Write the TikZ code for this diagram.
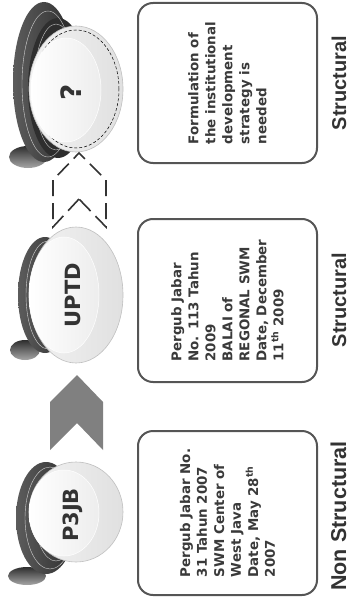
\documentclass[tikz,border=0pt]{standalone}
\usepackage{fontspec}
\setmainfont{DejaVu Sans}
\newfontfamily\labelfont{Liberation Sans}
\usetikzlibrary{shapes.geometric}
\definecolor{ink}{HTML}{333333}
\definecolor{boxink}{HTML}{3A3A3A}
\definecolor{boxline}{HTML}{555555}
\definecolor{chevgray}{HTML}{808080}
\definecolor{dishdark}{HTML}{2E2E2E}
\definecolor{dishedge}{HTML}{5C5C5C}

\begin{document}
\begin{tikzpicture}[x=1pt,y=-1pt,
  infobox/.style={draw=boxline, line width=2pt, rounded corners=15pt, rotate=90,
    minimum height=179pt, align=left, text=boxink, inner sep=0pt,
    font=\bfseries\fontsize{13.4}{17}\selectfont},
  kindlabel/.style={rotate=90, anchor=base, text=ink, inner sep=0pt,
    font=\labelfont\bfseries\fontsize{20}{22}\selectfont},
  dishrim/.style={ellipse, inner sep=0pt, draw=gray!50, line width=.6pt,
    left color=gray!10, right color=gray!24},
  dishface/.style={left color=white, right color=gray!14},
  dishlabel/.style={rotate=90, text=ink, inner sep=0pt,
    font=\bfseries\fontsize{21}{21}\selectfont},
  dishback/.style={left color=dishedge, right color=dishdark},
  dishfoot/.style={top color=dishdark, bottom color=gray!70},
  sheen/.style={draw=white, line width=.4pt, opacity=.75},
  solidchevron/.style={fill=chevgray},
  dashchevron/.style={draw=ink, line width=1.6pt, dash pattern=on 16pt off 7pt},
]
\useasboundingbox (0,0) rectangle (350,602);

% ---- dish with the question mark ----
\shade[dishfoot] (28,157) ellipse [x radius=19pt, y radius=11pt];
\shade[dishback] (44,82) ellipse [x radius=31pt, y radius=80pt];
\fill[dishdark] (58,88) ellipse [x radius=30pt, y radius=70pt];
\draw[sheen] (48,84) ellipse [x radius=26pt, y radius=73pt];
\draw[sheen] (56,87) ellipse [x radius=22pt, y radius=63pt];
\node[dishrim, minimum width=94pt, minimum height=126pt] (qrim) at (76,89) {};
\draw[black, line width=.5pt, densely dashed] (76,89) ellipse [x radius=43pt, y radius=59pt];
\shade[dishface] (66,90) ellipse [x radius=35pt, y radius=52pt];
\draw[white, line width=.5pt] (66,90) ellipse [x radius=35pt, y radius=52pt];
\node[dishlabel, font=\bfseries\fontsize{28}{28}\selectfont] (qmark) at (71,92) {?};

% ---- UPTD dish ----
\shade[dishfoot] (25,350) ellipse [x radius=15pt, y radius=10pt];
\shade[dishback] (45,295) ellipse [x radius=27pt, y radius=58pt];
\draw[sheen] (48,295) ellipse [x radius=22pt, y radius=54pt];
\node[dishrim, minimum width=94pt, minimum height=136pt] (uptdrim) at (76,295) {};
\shade[dishface] (64,295) ellipse [x radius=35pt, y radius=58pt];
\draw[white, line width=.5pt] (64,295) ellipse [x radius=35pt, y radius=58pt];
\node[dishlabel] (uptd) at (73,295) {UPTD};

% ---- P3JB dish ----
\shade[dishfoot] (27,576) ellipse [x radius=19pt, y radius=9pt];
\shade[dishback] (46,518) ellipse [x radius=30pt, y radius=56pt];
\draw[sheen] (50,518) ellipse [x radius=25pt, y radius=51pt];
\draw[sheen] (56,516) ellipse [x radius=21pt, y radius=45pt];
\node[dishrim, minimum width=94pt, minimum height=100pt] (p3jbrim) at (76,512) {};
\shade[dishface] (64,513) ellipse [x radius=35pt, y radius=43pt];
\draw[white, line width=.5pt] (64,513) ellipse [x radius=35pt, y radius=43pt];
\node[dishlabel] (p3jb) at (73,515) {P3JB};

% ---- arrows between the stages ----
\fill[solidchevron] (50,450) -- (50,402) -- (77,375) -- (103,402) -- (103,450) -- (77,423) -- cycle;
\draw[dashchevron] (79,199) -- (53,227) -- (53,180) -- (79,153) -- (106,180) -- (106,227) -- cycle;

% ---- description boxes ----
\node[infobox, minimum width=160pt] (strategy) at (227.5,83)
  {Formulation of\\the institutional\\development\\strategy is\\needed};
\node[infobox, minimum width=163pt] (balai) at (227.5,300.5)
  {Pergub Jabar\\No. 113 Tahun\\2009\\BALAI of\\REGONAL SWM\\Date, December\\11\textsuperscript{th} 2009};
\node[infobox, minimum width=164pt] (center) at (227.5,513)
  {Pergub Jabar No.\\31 Tahun 2007\\SWM Center of\\West Java\\Date, May 28\textsuperscript{th}\\2007};

% ---- classification labels ----
\node[kindlabel] (kind1) at (346,83) {Structural};
\node[kindlabel] (kind2) at (346,300) {Structural};
\node[kindlabel, font=\labelfont\bfseries\fontsize{21.5}{22}\selectfont] (kind3) at (346,516) {Non Structural};
\end{tikzpicture}
\end{document}
